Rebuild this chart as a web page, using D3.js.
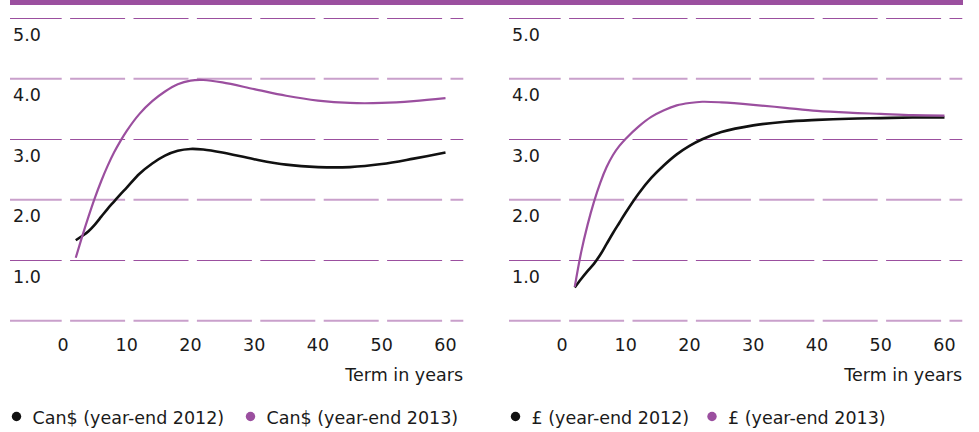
<!DOCTYPE html>
<html>
<head>
<meta charset="utf-8">
<script src="https://cdn.jsdelivr.net/npm/d3@7"></script>
<style>
  body { margin: 0; background: #fff; }
  svg { display: block; }
  text { font-family: "DejaVu Sans", sans-serif; font-size: 17.5px; fill: #1a1a1a; }
</style>
</head>
<body>
<svg id="chart" width="979" height="432"></svg>
<script>
const terms = [2, 3, 4, 5, 6, 7, 8, 9, 10, 12, 14, 16, 18, 20, 22, 25, 30, 35, 40, 45, 50, 55, 60];

// Canadian dollar discount curves
const cad2012 = [1.33, 1.40, 1.48, 1.59, 1.72, 1.85, 1.97, 2.09, 2.20, 2.43, 2.60, 2.73, 2.81, 2.84, 2.83, 2.78, 2.67, 2.58, 2.54, 2.54, 2.59, 2.68, 2.78];
const cad2013 = [1.04, 1.39, 1.72, 2.03, 2.31, 2.56, 2.78, 2.97, 3.14, 3.42, 3.63, 3.79, 3.91, 3.97, 3.98, 3.94, 3.83, 3.72, 3.64, 3.60, 3.60, 3.63, 3.68];

// Sterling discount curves
const gbp2012 = [0.55, 0.69, 0.82, 0.94, 1.09, 1.27, 1.45, 1.62, 1.79, 2.10, 2.36, 2.57, 2.75, 2.89, 3.00, 3.12, 3.23, 3.29, 3.32, 3.34, 3.35, 3.36, 3.36];
const gbp2013 = [0.56, 1.13, 1.58, 1.96, 2.28, 2.54, 2.74, 2.89, 3.01, 3.21, 3.37, 3.48, 3.56, 3.60, 3.62, 3.61, 3.57, 3.52, 3.47, 3.44, 3.42, 3.40, 3.39];

const yTicks = [0, 1, 2, 3, 4, 5];
const xTicks = [0, 10, 20, 30, 40, 50, 60];
const xTitle = "Term in years";

const panels = [
    { ox: 0, series: [
        { name: "Can$ (year-end 2012)", values: cad2012, color: "#111111", width: 2.6 },
        { name: "Can$ (year-end 2013)", values: cad2013, color: "#9b4f9f", width: 2.2 }
    ], legendX: [16.5, 250.5] },
    { ox: 499, series: [
        { name: "£ (year-end 2012)", values: gbp2012, color: "#111111", width: 2.6 },
        { name: "£ (year-end 2013)", values: gbp2013, color: "#9b4f9f", width: 2.2 }
    ], legendX: [16.5, 213] }
];

const purple = "#9b4f9f";
const svg = d3.select("#chart");

// Top rule
svg.append("rect")
    .attr("x", 10).attr("y", 0)
    .attr("width", 953).attr("height", 5)
    .attr("fill", purple);

const y = d3.scaleLinear().domain([0, 5]).range([320.7, 18.3]);

panels.forEach(p => {
    const g = svg.append("g").attr("transform", `translate(${p.ox},0)`);
    const x = d3.scaleLinear().domain([0, 60]).range([63, 445.5]);

    // Dashed gridlines, alternating strength like the print original
    g.selectAll(".grid")
        .data(yTicks)
        .enter()
        .append("line")
        .attr("x1", 10).attr("x2", 463.3)
        .attr("y1", d => d % 2 === 1 ? Math.round(y(d)) + 0.5 : y(d))
        .attr("y2", d => d % 2 === 1 ? Math.round(y(d)) + 0.5 : y(d))
        .attr("stroke", d => d % 2 === 1 ? purple : "#c9a0cb")
        .attr("stroke-width", d => d % 2 === 1 ? 1 : 2)
        .attr("stroke-dasharray", "55 8.4")
        .attr("stroke-dashoffset", 3.3);

    // Y labels sit just below their gridline
    g.selectAll(".ylab")
        .data(yTicks.filter(d => d > 0))
        .enter()
        .append("text")
        .attr("x", 13)
        .attr("y", d => y(d) + 22.5)
        .text(d => d.toFixed(1));

    // X tick labels
    g.selectAll(".xlab")
        .data(xTicks)
        .enter()
        .append("text")
        .attr("x", d => x(d))
        .attr("y", 351)
        .attr("text-anchor", "middle")
        .text(d => d);

    g.append("text")
        .attr("x", 463)
        .attr("y", 381)
        .attr("text-anchor", "end")
        .text(xTitle);

    const line = d3.line()
        .x((d, i) => x(terms[i]))
        .y(d => y(d))
        .curve(d3.curveCatmullRom.alpha(0.5));

    p.series.forEach(s => {
        g.append("path")
            .attr("d", line(s.values))
            .attr("fill", "none")
            .attr("stroke", s.color)
            .attr("stroke-width", s.width)
            .attr("stroke-linecap", "butt");
    });

    // Legend
    p.series.forEach((s, i) => {
        const lx = p.legendX[i];
        g.append("circle")
            .attr("cx", lx).attr("cy", 416.5).attr("r", 4.7)
            .attr("fill", s.color);
        g.append("text")
            .attr("x", lx + 16)
            .attr("y", 424)
            .text(s.name);
    });
});
</script>
</body>
</html>
